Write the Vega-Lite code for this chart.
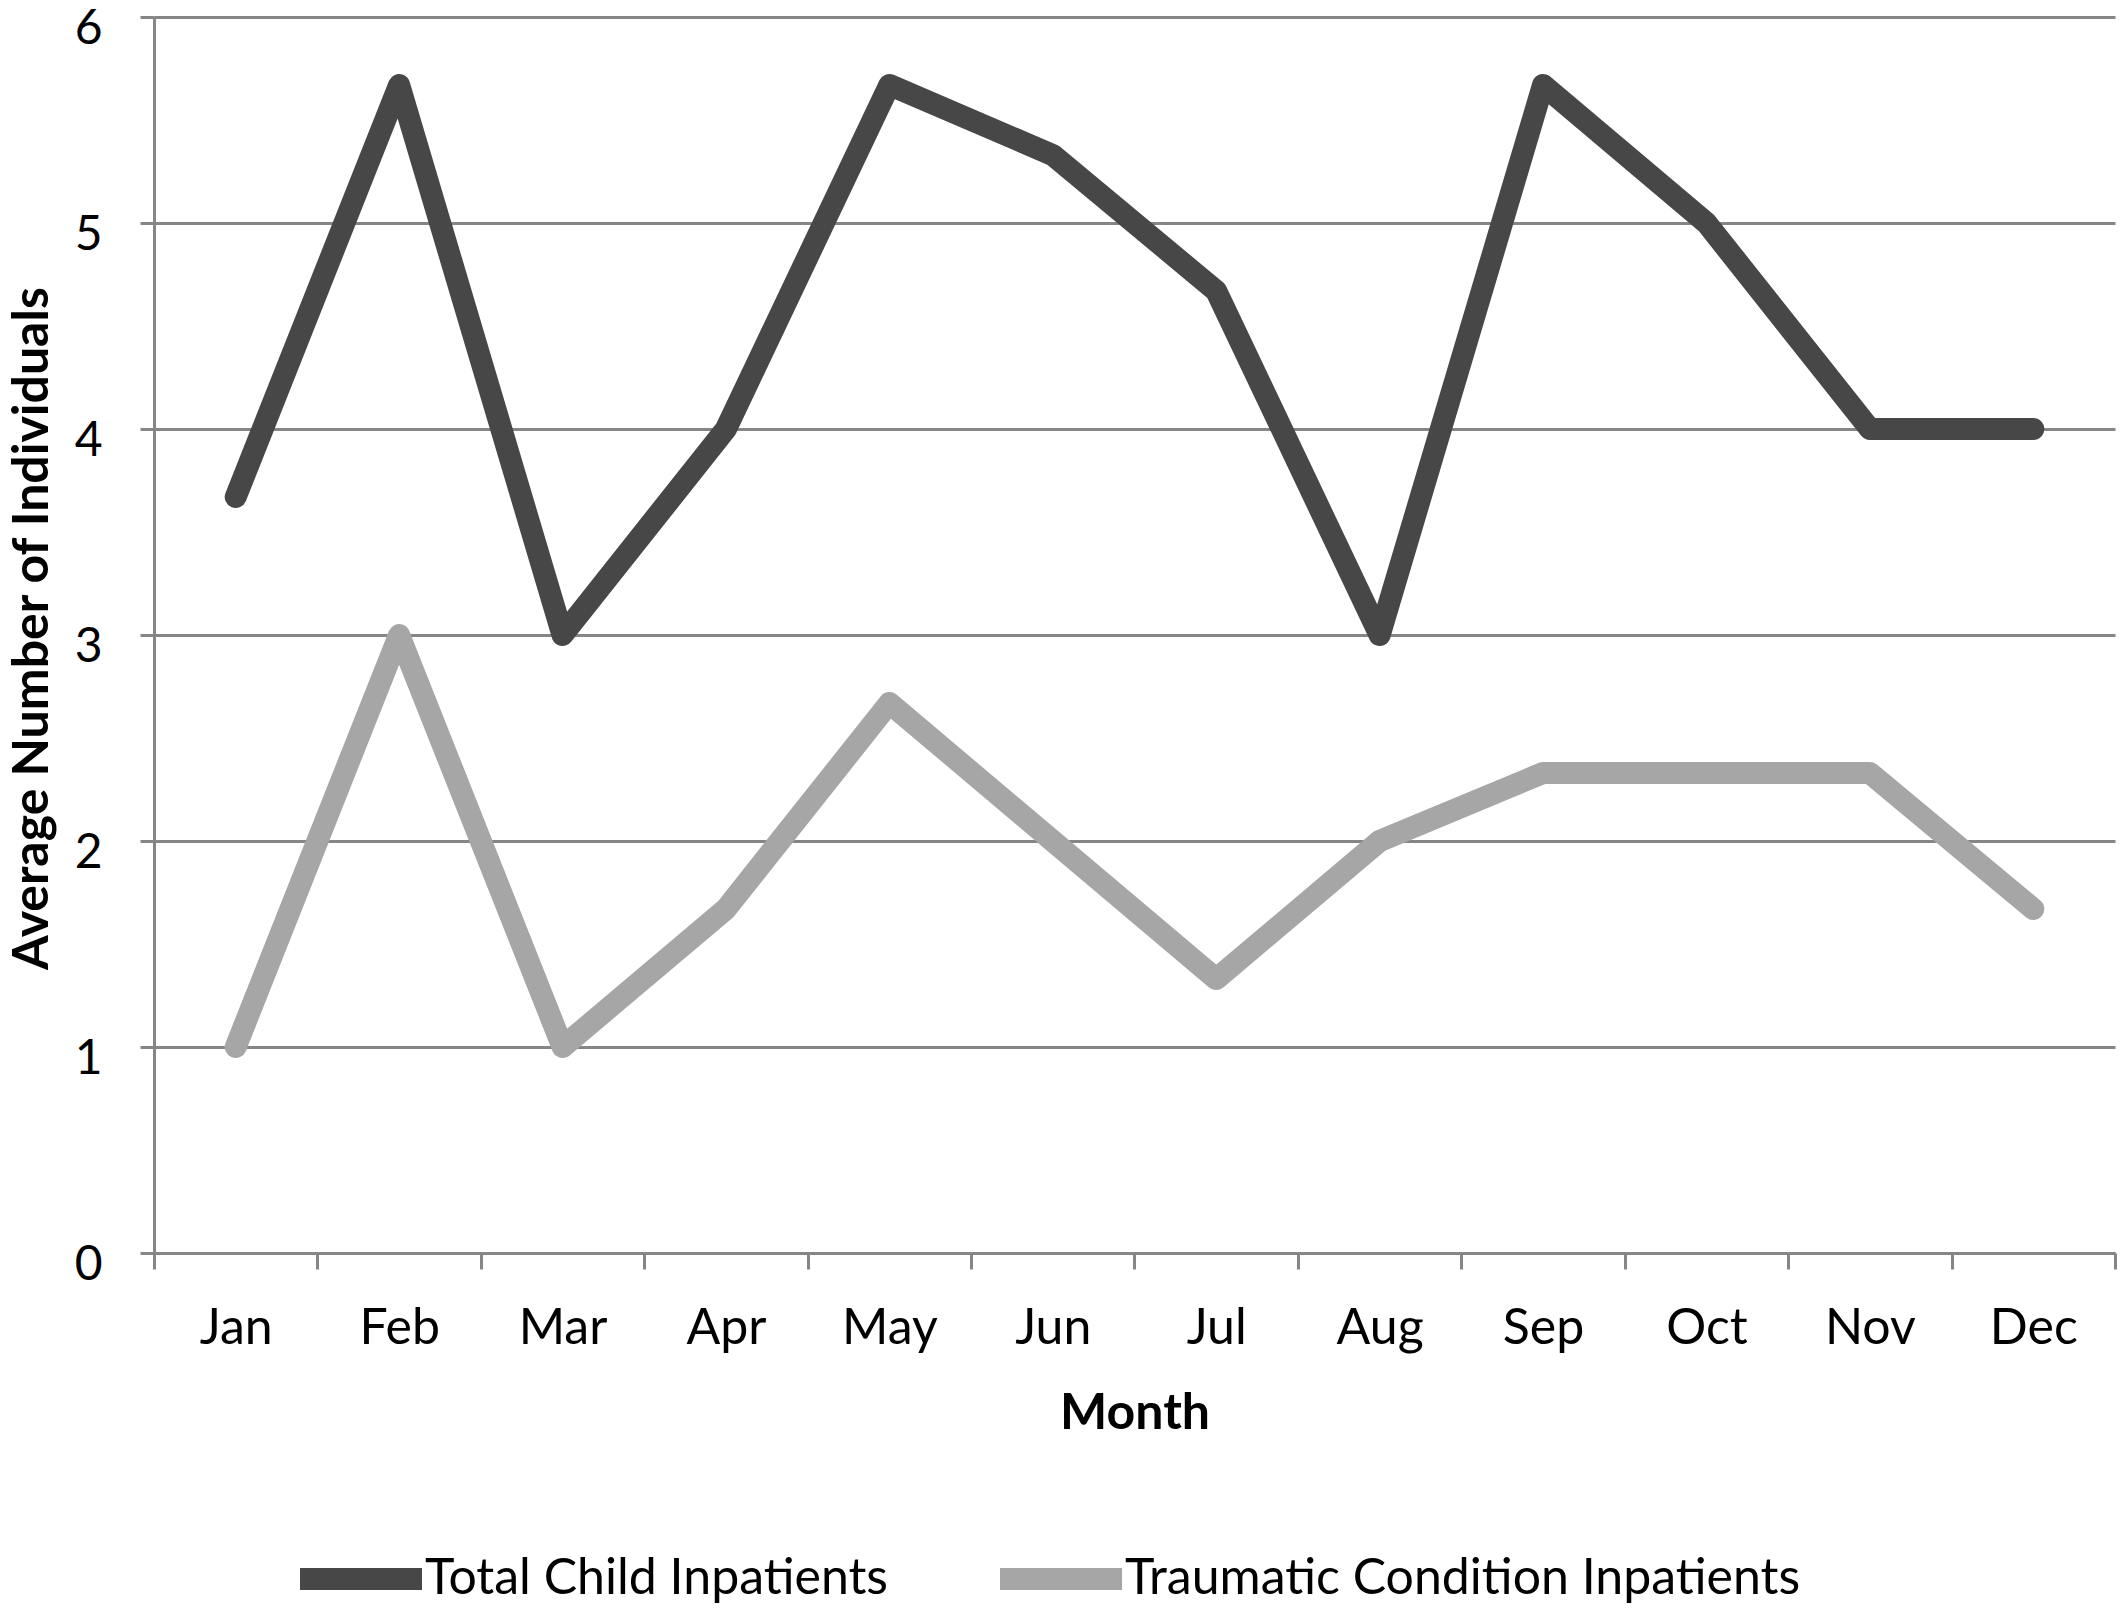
{
  "$schema": "https://vega.github.io/schema/vega-lite/v6.json",
  "autosize": {"type": "none"},
  "width": 1961,
  "height": 1236,
  "padding": {"left": 154, "top": 17, "right": 11, "bottom": 362},
  "background": "white",
  "config": {
    "font": "Lato",
    "view": {"stroke": null}
  },
  "data": {
    "values": [
      {"month": "Jan", "series": "Total Child Inpatients", "value": 3.67},
      {"month": "Feb", "series": "Total Child Inpatients", "value": 5.67},
      {"month": "Mar", "series": "Total Child Inpatients", "value": 3.0},
      {"month": "Apr", "series": "Total Child Inpatients", "value": 4.0},
      {"month": "May", "series": "Total Child Inpatients", "value": 5.67},
      {"month": "Jun", "series": "Total Child Inpatients", "value": 5.33},
      {"month": "Jul", "series": "Total Child Inpatients", "value": 4.67},
      {"month": "Aug", "series": "Total Child Inpatients", "value": 3.0},
      {"month": "Sep", "series": "Total Child Inpatients", "value": 5.67},
      {"month": "Oct", "series": "Total Child Inpatients", "value": 5.0},
      {"month": "Nov", "series": "Total Child Inpatients", "value": 4.0},
      {"month": "Dec", "series": "Total Child Inpatients", "value": 4.0},
      {"month": "Jan", "series": "Traumatic Condition Inpatients", "value": 1.0},
      {"month": "Feb", "series": "Traumatic Condition Inpatients", "value": 3.0},
      {"month": "Mar", "series": "Traumatic Condition Inpatients", "value": 1.0},
      {"month": "Apr", "series": "Traumatic Condition Inpatients", "value": 1.67},
      {"month": "May", "series": "Traumatic Condition Inpatients", "value": 2.67},
      {"month": "Jun", "series": "Traumatic Condition Inpatients", "value": 2.0},
      {"month": "Jul", "series": "Traumatic Condition Inpatients", "value": 1.33},
      {"month": "Aug", "series": "Traumatic Condition Inpatients", "value": 2.0},
      {"month": "Sep", "series": "Traumatic Condition Inpatients", "value": 2.33},
      {"month": "Oct", "series": "Traumatic Condition Inpatients", "value": 2.33},
      {"month": "Nov", "series": "Traumatic Condition Inpatients", "value": 2.33},
      {"month": "Dec", "series": "Traumatic Condition Inpatients", "value": 1.67}
    ]
  },
  "mark": {"type": "line", "strokeWidth": 22, "strokeCap": "round", "strokeJoin": "round"},
  "encoding": {
    "x": {
      "field": "month",
      "type": "ordinal",
      "sort": ["Jan","Feb","Mar","Apr","May","Jun","Jul","Aug","Sep","Oct","Nov","Dec"],
      "bandPosition": 0.5,
      "scale": {"type": "band", "paddingInner": 0, "paddingOuter": 0},
      "axis": {
        "title": "Month",
        "titleFontSize": 50,
        "titleFontWeight": "bold",
        "titleColor": "black",
        "titleBaseline": "middle",
        "titleY": 160,
        "labelAngle": 0,
        "labelFontSize": 50,
        "labelColor": "black",
        "labelPadding": 34,
        "tickBand": "extent",
        "tickSize": 16,
        "tickWidth": 3,
        "tickColor": "#868686",
        "domainColor": "#868686",
        "domainWidth": 3,
        "grid": false
      }
    },
    "y": {
      "field": "value",
      "type": "quantitative",
      "scale": {"domain": [0, 6], "nice": false},
      "axis": {
        "title": "Average Number of Individuals",
        "titleFontSize": 50,
        "titleFontWeight": "bold",
        "titleColor": "black",
        "titleBaseline": "middle",
        "titleAnchor": "middle",
        "titleX": -122,
        "titleY": 611,
        "values": [0, 1, 2, 3, 4, 5, 6],
        "labelFontSize": 48,
        "labelColor": "black",
        "labelPadding": 38,
        "labelOffset": 12,
        "tickSize": 14,
        "tickWidth": 3,
        "tickColor": "#868686",
        "domainColor": "#868686",
        "domainWidth": 3,
        "grid": true,
        "gridColor": "#868686",
        "gridWidth": 3
      }
    },
    "color": {
      "field": "series",
      "type": "nominal",
      "scale": {
        "domain": ["Total Child Inpatients", "Traumatic Condition Inpatients"],
        "range": ["#474747", "#a6a6a6"]
      },
      "legend": {
        "title": null,
        "orient": "none",
        "direction": "horizontal",
        "legendX": 135,
        "legendY": 1490,
        "symbolType": "stroke",
        "symbolStrokeWidth": 22,
        "symbolSize": 14884,
        "labelFontSize": 50,
        "labelColor": "black",
        "labelOffset": -8,
        "columnPadding": 67,
        "labelLimit": 1000
      }
    }
  }
}
